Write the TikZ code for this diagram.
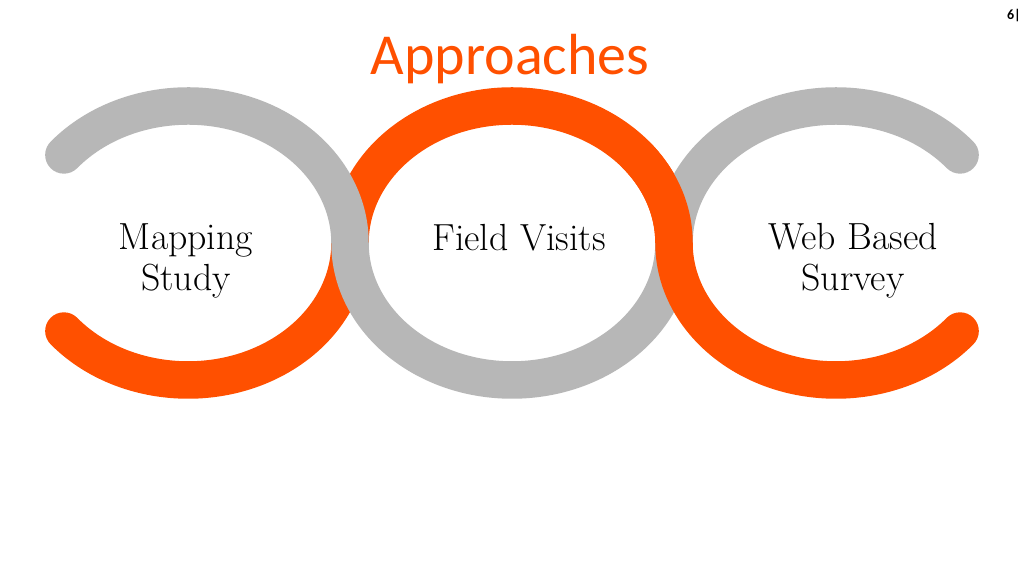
\documentclass[tikz,border=0pt]{standalone}
\usepackage{fontspec}
\newfontfamily\titlefont{Carlito}
\definecolor{ringorange}{RGB}{255,80,0}
\definecolor{ringgray}{RGB}{183,183,183}

\begin{document}
\begin{tikzpicture}[
    band/.style={line width=0.75cm, line cap=round},
    ringtext/.style={align=center, font=\fontsize{21.5}{23.5}\selectfont}
  ]
    % Canvas
    \useasboundingbox (0,0) rectangle (20.48,11.52);
    \fill[white] (0,0) rectangle (20.48,11.52);

    % Title and page number
    \node[anchor=base, text=ringorange, font=\titlefont\fontsize{33}{36}\selectfont] (title) at (10.2,10.02) {Approaches};
    \node[font=\titlefont\bfseries\fontsize{8}{10}\selectfont] (page) at (20.28,11.2) {6|};

    % Orange: left bottom and middle top
    \draw[band, ringorange] (3.76,6.66) ++(220:3.24 and 2.74)
        arc[start angle=220, end angle=360, x radius=3.24cm, y radius=2.74cm]
        arc[start angle=180, end angle=0, x radius=3.24cm, y radius=2.74cm];

    % Gray: left top, middle bottom, right top
    \draw[band, ringgray] (3.76,6.66) ++(140:3.24 and 2.74)
        arc[start angle=140, end angle=0, x radius=3.24cm, y radius=2.74cm]
        arc[start angle=180, end angle=360, x radius=3.24cm, y radius=2.74cm]
        arc[start angle=180, end angle=40, x radius=3.24cm, y radius=2.74cm];

    % Orange again, on top at the right crossing
    \draw[band, ringorange] (10.24,6.66) ++(40:3.24 and 2.74)
        arc[start angle=40, end angle=0, x radius=3.24cm, y radius=2.74cm]
        arc[start angle=180, end angle=320, x radius=3.24cm, y radius=2.74cm];

    % Labels
    \node[ringtext] (mapping) at (3.72,6.3) {Mapping\\Study};
    \node[ringtext] (field) at (10.38,6.76) {Field Visits};
    \node[ringtext] (survey) at (17.06,6.3) {Web Based\\Survey};
\end{tikzpicture}
\end{document}
